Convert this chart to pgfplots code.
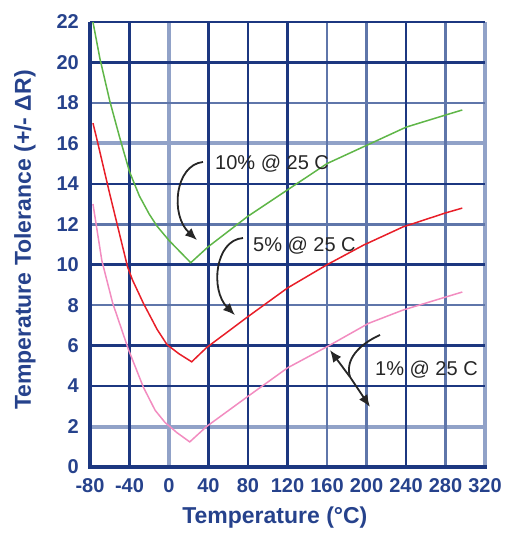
\documentclass[border=0pt]{standalone}
\usepackage{fontspec}
\setmainfont{Liberation Sans}
\usepackage{pgfplots}
\pgfplotsset{compat=1.18}
\usetikzlibrary{arrows.meta}
\definecolor{gdark}{RGB}{28,55,128}
\definecolor{gmid}{RGB}{95,118,170}
\definecolor{glight}{RGB}{145,162,200}
\definecolor{txtblue}{RGB}{38,66,140}
\definecolor{cgreen}{RGB}{95,182,72}
\definecolor{cred}{RGB}{232,30,40}
\definecolor{cpink}{RGB}{242,140,192}
\newcommand{\tickfont}{\fontsize{20bp}{22bp}\selectfont\bfseries}
\newcommand{\labfont}{\fontsize{23bp}{26bp}\selectfont\bfseries}
\newcommand{\annfont}{\fontsize{20bp}{22bp}\selectfont}
\begin{document}
\begin{tikzpicture}
\begin{axis}[name=ax, scale only axis, width=395bp, height=445bp,
  xmin=-80, xmax=320, ymin=0, ymax=22,
  axis line style={draw=none}, clip=false,
  xtick={-80,-40,0,40,80,120,160,200,240,280,320},
  xticklabels={-80,-40,0,40,80,120,160,200,240,280,320},
  ytick={0,2,4,6,8,10,12,14,16,18,20,22},
  yticklabels={0,2,4,6,8,10,12,14,16,18,20,22},
  major tick length=0pt, tick style={draw=none},
  tick label style={font=\tickfont, text=txtblue, inner sep=0pt},
  x tick label style={yshift=-11bp},
  y tick label style={xshift=-11bp},
  xlabel={Temperature (°C)},
  ylabel={Temperature Tolerance (+/- ΔR)},
  x label style={at={(axis description cs:0.468,-0.1146)}, anchor=center, font=\labfont, text=txtblue},
  y label style={at={(axis description cs:-0.165,0.51)}, anchor=center, font=\labfont, text=txtblue},
]
% grid lines: light, medium, dark
\draw[glight, line width=4bp] (0,0)--(0,22) (320,0)--(320,22) (-80,16)--(320,16) (-80,2)--(320,2);
\draw[gmid, line width=2.6bp] (160,0)--(160,22) (200,0)--(200,22) (280,0)--(280,22)
  (-80,18)--(320,18) (-80,12)--(320,12) (-80,8)--(320,8);
\draw[gdark, line width=2.6bp] (-40,0)--(-40,22) (40,0)--(40,22) (80,0)--(80,22) (120,0)--(120,22) (240,0)--(240,22)
  (-80,20)--(320,20) (-80,14)--(320,14) (-80,10)--(320,10) (-80,6)--(320,6) (-80,4)--(320,4) (-80,22)--(320,22);
\draw[gdark, line width=4bp] (-80,0)--(-80,22) (-82,0)--(322,0);

% 10% @ 25 C
\addplot[cgreen, line width=1.5bp] coordinates {
 (-77,22) (-70,20.2) (-60,18.1) (-50,16.3) (-40,14.6) (-30,13.4) (-20,12.5) (-12,11.9) (0,11.2) (22,10.1)
 (40,10.9) (80,12.4) (120,13.7) (160,15.0) (200,15.9) (240,16.8) (280,17.4) (297,17.65)};
% 5% @ 25 C
\addplot[cred, line width=1.5bp] coordinates {
 (-77,17.0) (-73,16.2) (-60,13.5) (-50,11.5) (-42,9.9) (-37,9.25) (-26,8.1) (-12,6.8) (-2,6.05) (10,5.6) (23,5.2)
 (38,5.9) (79,7.4) (120,8.85) (160,10.0) (197,10.97) (237,11.87) (280,12.56) (297,12.8)};
% 1% @ 25 C
\addplot[cpink, line width=1.5bp] coordinates {
 (-77,13.0) (-68,10.2) (-57,8.1) (-41,5.8) (-26,3.95) (-14,2.8) (-4,2.2) (8,1.7) (21,1.24)
 (38,2.0) (79,3.46) (120,4.9) (162,6.0) (202,7.1) (237,7.76) (280,8.4) (297,8.65)};

% annotations
\node[anchor=west, inner sep=0pt, font=\annfont, text=black!85] at (46.6,15.0) {10\% @ 25 C};
\node[anchor=west, inner sep=0pt, font=\annfont, text=black!85] at (85,10.93) {5\% @ 25 C};
\node[anchor=west, inner sep=0pt, font=\annfont, text=black!85] at (208.6,4.8) {1\% @ 25 C};
\draw[black!85, line width=1.8bp, -{Latex[length=12bp,width=10bp]}]
  (34.4,15.08) .. controls (6,14.93) and (1,12.46) .. (28.4,11.22);
\draw[black!85, line width=1.8bp, -{Latex[length=12bp,width=10bp]}]
  (74.9,11.32) .. controls (46.6,11.22) and (41.5,8.75) .. (66.8,7.51);
\draw[black!85, line width=1.8bp]
  (213.7,6.53) .. controls (191.4,6.03) and (178.2,5.29) .. (183.3,4.45);
\draw[black!85, line width=1.8bp, -{Latex[length=12bp,width=10bp]}] (183.3,4.45) -- (163,5.78);
\draw[black!85, line width=1.8bp, -{Latex[length=12bp,width=10bp]}] (183.3,4.45) -- (203.5,2.97);
\end{axis}
\pgfresetboundingbox
\path ([shift={(-90bp,-67bp)}]ax.south west) rectangle ([shift={(29bp,22bp)}]ax.north east);
\end{tikzpicture}
\end{document}
